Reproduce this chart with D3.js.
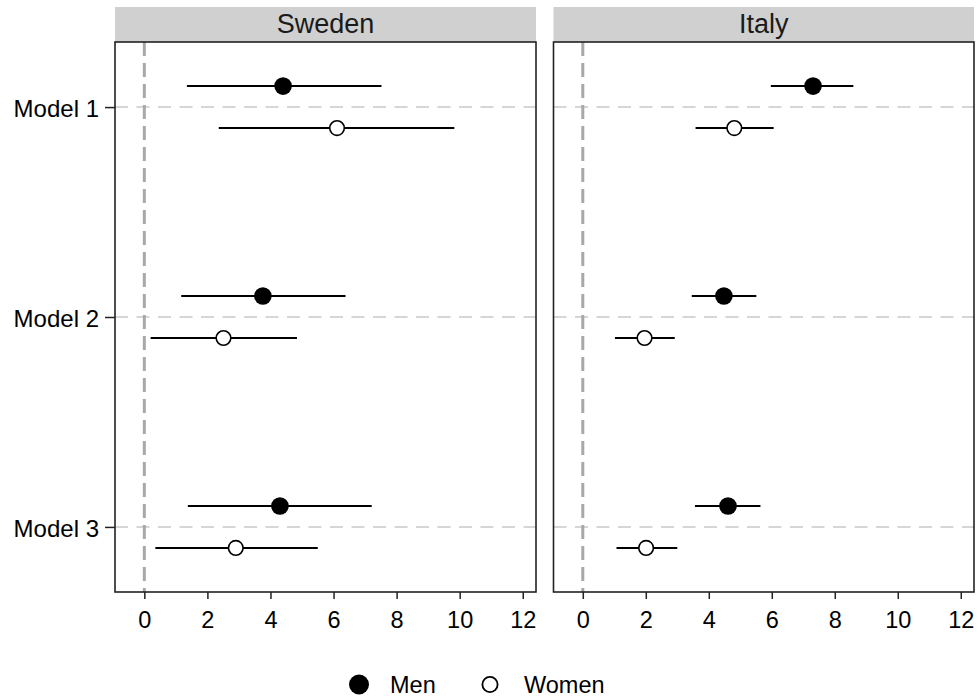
<!DOCTYPE html>
<html><head><meta charset="utf-8">
<script src="https://cdn.jsdelivr.net/npm/d3@7"></script>
<style>body{margin:0;background:#fff}text{font-family:"Liberation Sans",Arial,sans-serif}</style>
</head><body>
<svg id="c" width="978" height="700"></svg>
<script>
const countries = ["Sweden", "Italy"];
const models = ["Model 1", "Model 2", "Model 3"];
const groups = ["Men", "Women"];
const xTicks = [0, 2, 4, 6, 8, 10, 12];
// estimates [Men, Women] per model
const swedenEst = [[4.40, 6.11], [3.76, 2.51], [4.30, 2.90]];
const swedenLo  = [[1.35, 2.36], [1.17, 0.20], [1.38, 0.35]];
const swedenHi  = [[7.52, 9.83], [6.38, 4.84], [7.21, 5.50]];
const italyEst  = [[7.31, 4.81], [4.48, 1.96], [4.61, 2.01]];
const italyLo   = [[5.97, 3.58], [3.46, 1.02], [3.56, 1.07]];
const italyHi   = [[8.59, 6.06], [5.51, 2.92], [5.64, 3.00]];

const tables = [[swedenEst, swedenLo, swedenHi], [italyEst, italyLo, italyHi]];

const svg = d3.select("#c");
const panels = [{x0: 115, x1: 536}, {x0: 553.5, x1: 974}];
const pTop = 42, pBottom = 592, stripTop = 7;
const y = d3.scaleLinear().domain([0.69, 3.31]).range([pTop, pBottom]);
const dodge = 0.1;
const FONT = "Liberation Sans, Arial, sans-serif";

panels.forEach((p, pi) => {
  const x = d3.scaleLinear().domain([-0.93, 12.42]).range([p.x0, p.x1]);
  const g = svg.append("g");
  // strip
  g.append("rect").attr("x", p.x0).attr("y", stripTop).attr("width", p.x1 - p.x0).attr("height", pTop - stripTop).attr("fill", "#d0d0d0");
  g.append("text").attr("x", (p.x0 + p.x1) / 2).attr("y", 32.5).attr("text-anchor", "middle").attr("font-size", 27).attr("fill", "#1a1a1a").text(countries[pi]);
  // grid
  models.forEach((m, i) => {
    g.append("line").attr("x1", p.x0).attr("x2", p.x1).attr("y1", y(i + 1)).attr("y2", y(i + 1))
      .attr("stroke", "#d6d6d6").attr("stroke-width", 2).attr("stroke-dasharray", "13,8.5");
  });
  // zero line
  g.append("line").attr("x1", x(0)).attr("x2", x(0)).attr("y1", pTop).attr("y2", pBottom)
    .attr("stroke", "#a8a8a8").attr("stroke-width", 3).attr("stroke-dasharray", "14,7");
  const [est, lo, hi] = tables[pi];
  models.forEach((m, i) => {
    groups.forEach((gr, j) => {
      const yy = y(i + 1 + (j === 0 ? -dodge : dodge));
      g.append("line").attr("x1", x(lo[i][j])).attr("x2", x(hi[i][j])).attr("y1", yy).attr("y2", yy)
        .attr("stroke", "#000").attr("stroke-width", 2);
      g.append("circle").attr("cx", x(est[i][j])).attr("cy", yy).attr("r", j === 0 ? 8.8 : 7.3)
        .attr("fill", j === 0 ? "#000" : "#fff").attr("stroke", "#000").attr("stroke-width", j === 0 ? 0 : 1.6);
    });
  });
  // border
  g.append("rect").attr("x", p.x0).attr("y", pTop).attr("width", p.x1 - p.x0).attr("height", pBottom - pTop)
    .attr("fill", "none").attr("stroke", "#222").attr("stroke-width", 1.6);
  // x axis
  const ax = g.append("g").attr("transform", `translate(0,${pBottom})`)
    .call(d3.axisBottom(x).tickValues(xTicks).tickSize(7).tickPadding(12).tickSizeOuter(0));
  ax.select(".domain").remove();
  ax.selectAll(".tick line").attr("stroke", "#222").attr("stroke-width", 1.5);
  ax.selectAll("text").attr("font-size", 23.5).attr("fill", "#000").attr("font-family", FONT);
  if (pi === 0) {
    const ay = g.append("g").attr("transform", `translate(${p.x0},0)`)
      .call(d3.axisLeft(y).tickValues([1, 2, 3]).tickFormat((d) => models[d - 1]).tickSize(10).tickPadding(6).tickSizeOuter(0));
    ay.select(".domain").remove();
    ay.selectAll(".tick line").attr("stroke", "#222").attr("stroke-width", 1.5);
    ay.selectAll("text").attr("font-size", 24).attr("dy", "0.38em").attr("fill", "#000").attr("font-family", FONT);
  }
});

// legend
const leg = svg.append("g");
const legX = [359, 490];
const legTextX = [390, 524];
groups.forEach((gr, j) => {
  leg.append("circle").attr("cx", legX[j]).attr("cy", 684.5).attr("r", j === 0 ? 10 : 7.6)
    .attr("fill", j === 0 ? "#000" : "#fff").attr("stroke", "#000").attr("stroke-width", j === 0 ? 0 : 1.8);
  leg.append("text").attr("x", legTextX[j]).attr("y", 693).attr("font-size", 23.5).attr("fill", "#000").text(gr);
});
</script>
</body></html>
